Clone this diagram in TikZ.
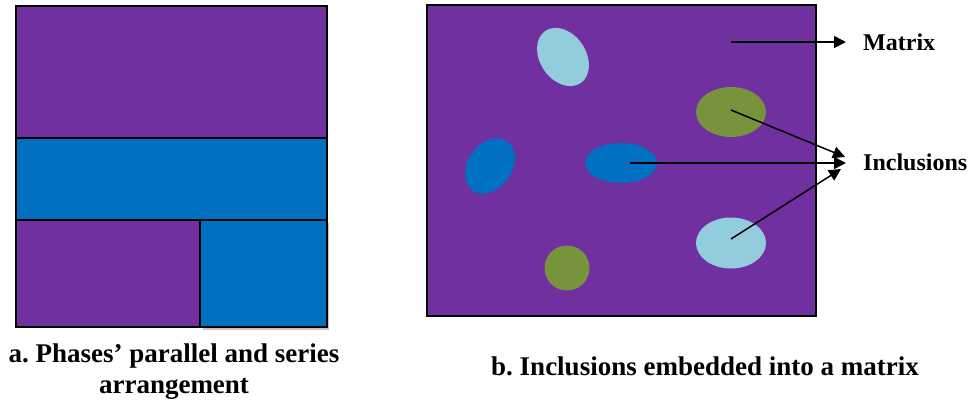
\documentclass[tikz,border=0pt]{standalone}
\usepackage{fontspec}
\setmainfont{Liberation Serif}
\usetikzlibrary{arrows.meta,shapes.geometric}
\definecolor{mpurple}{HTML}{7030A0}
\definecolor{mblue}{HTML}{0070C0}
\definecolor{mlight}{HTML}{93CDDD}
\definecolor{molive}{HTML}{77933C}
\frenchspacing
\begin{document}
\begin{tikzpicture}[x=1pt,y=-1pt,
  phase/.style={draw=black,line width=1.8pt},
  incl/.style={ellipse,draw=none,inner sep=0pt,outer sep=0pt},
  ptr/.style={line width=1.5pt,-{Triangle[length=12pt,width=12pt]}},
  captext/.style={font=\bfseries\fontsize{27}{31}\selectfont,align=center,inner sep=0pt},
  lab/.style={font=\bfseries\fontsize{24}{28}\selectfont,anchor=base west,inner sep=0pt}]
\useasboundingbox (0,0) rectangle (970,401);
% panel a
\fill[gray!45] (203,223) rectangle (329,330);
\filldraw[phase,fill=mpurple] (16,6) rectangle (327,138);
\filldraw[phase,fill=mblue] (16,138) rectangle (327,220);
\filldraw[phase,fill=mpurple] (16,220) rectangle (200,327);
\filldraw[phase,fill=mblue] (200,220) rectangle (327,327);
\node[captext,anchor=base] (capa) at (174,393) {a. Phases’ parallel and series\\arrangement};
% panel b
\filldraw[phase,fill=mpurple] (427,5) rectangle (816,316);
\node[incl,fill=mlight,minimum width=46,minimum height=63,rotate=34] (e1) at (563,57) {};
\node[incl,fill=mblue,minimum width=44,minimum height=60,rotate=-35] (e2) at (490,166) {};
\node[incl,fill=mblue,minimum width=72,minimum height=40] (e3) at (621,163) {};
\node[incl,fill=molive,minimum width=70,minimum height=50] (e4) at (731,112) {};
\node[incl,fill=mlight,minimum width=70,minimum height=51] (e5) at (731,243) {};
\node[incl,fill=molive,minimum width=45,minimum height=45] (e6) at (567,268) {};
\node[lab] (mat) at (863,51) {Matrix};
\node[lab] (inc) at (863,171) {Inclusions};
\coordinate (msrc) at (731,42);
\coordinate (mtip) at (846,42);
\coordinate (t1) at (845,157);
\coordinate (t2) at (846,163);
\coordinate (t3) at (841,169);
\draw[ptr] (msrc) -- (mtip);
\draw[ptr] ([yshift=2]e4.center) -- (t1);
\draw[ptr] ([xshift=9]e3.center) -- (t2);
\draw[ptr] ([yshift=4]e5.center) -- (t3);
\node[captext,anchor=base] (capb) at (705,375) {b. Inclusions embedded into a matrix};
\end{tikzpicture}
\end{document}
